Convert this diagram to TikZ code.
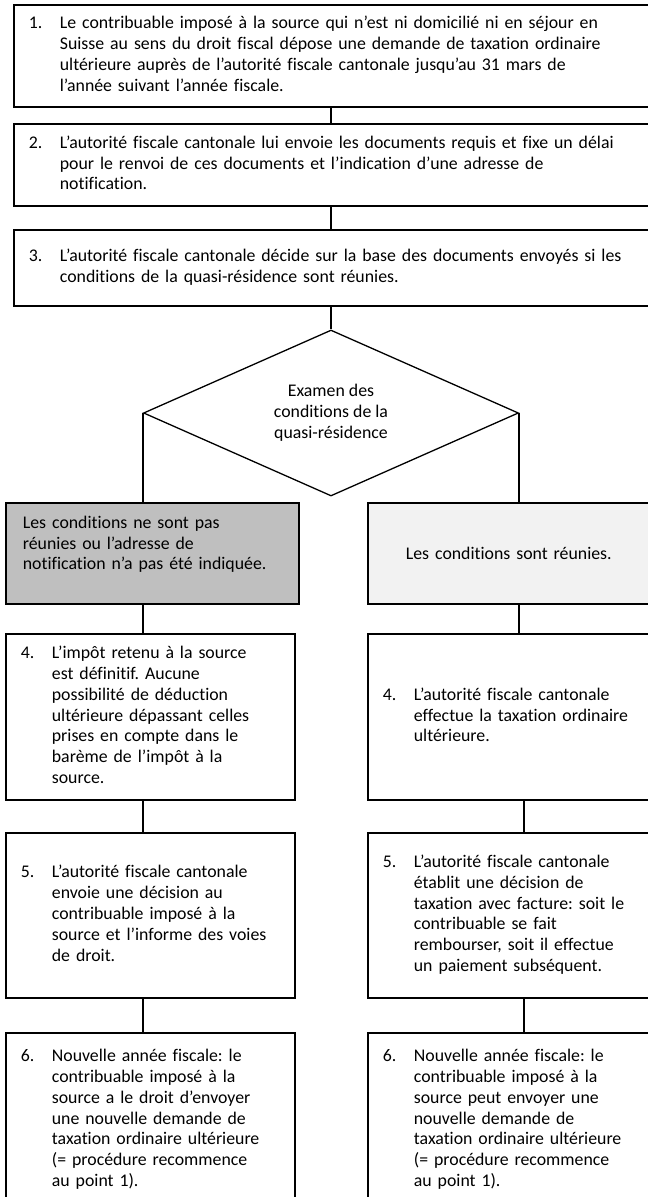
\documentclass[tikz,border=0pt]{standalone}
\usepackage{fontspec}
\setmainfont{Carlito}[Ligatures=NoCommon]
\usetikzlibrary{shapes.geometric, positioning}
\definecolor{nogogray}{RGB}{191, 191, 191}
\definecolor{golight}{RGB}{242, 242, 242}
\newcommand\numtext[2]{\noindent\begin{tabular}[c]{@{}p{31pt}@{}l@{}}#1&\begin{tabular}[t]{@{}l@{}}#2\end{tabular}\end{tabular}}
\frenchspacing

\begin{document}
\begin{tikzpicture}[x=1pt, y=-1pt,
        base/.style={draw, line width=1.8pt, anchor=north west, align=left, inner xsep=15pt, inner ysep=0pt, font=\fontsize{17.8}{20.8}\selectfont},
        widebox/.style={base, minimum width=639pt, text width=609pt},
        leftbox/.style={base, minimum width=289pt, text width=259pt},
        rightbox/.style={base, minimum width=303pt, text width=273pt},
        decision/.style={draw, diamond, line width=1.3pt, aspect=2.26, minimum width=375pt, minimum height=166pt, inner sep=0pt, align=center, font=\fontsize{17.8}{20.8}\selectfont},
        link/.style={line width=1.4pt}
    ]
        \useasboundingbox (0,0) rectangle (648,1197);
        \clip (0,0) rectangle (648,1197);

        % Common steps
        \node (step1) [widebox, minimum height=102pt] at (13,4) {\numtext{1.}{Le contribuable imposé à la source qui n’est ni domicilié ni en séjour en\\Suisse au sens du droit fiscal dépose une demande de taxation ordinaire\\ultérieure auprès de l’autorité fiscale cantonale jusqu’au 31 mars de\\l’année suivant l’année fiscale.}};
        \node (step2) [widebox, minimum height=82pt] at (13,123) {\numtext{2.}{L’autorité fiscale cantonale lui envoie les documents requis et fixe un délai\\pour le renvoi de ces documents et l’indication d’une adresse de\\notification.}};
        \node (step3) [widebox, minimum height=76pt] at (13,229) {\numtext{3.}{L’autorité fiscale cantonale décide sur la base des documents envoyés si les\\conditions de la quasi-résidence sont réunies.}};
        \node (dec) [decision] at (331,413) {Examen des\\conditions de la\\quasi-résidence};

        % Left branch
        \node (nogo) [leftbox, fill=nogogray, minimum height=101pt, inner xsep=17pt] at (5,502) {Les conditions ne sont pas\\réunies ou l’adresse de\\notification n’a pas été indiquée.\\\mbox{}};
        \node (nofour) [leftbox, minimum height=166pt] at (5,633) {\numtext{4.}{L’impôt retenu à la source\\est définitif. Aucune\\possibilité de déduction\\ultérieure dépassant celles\\prises en compte dans le\\barème de l’impôt à la\\source.}};
        \node (nofive) [leftbox, minimum height=165pt] at (5,832) {\numtext{5.}{L’autorité fiscale cantonale\\envoie une décision au\\contribuable imposé à la\\source et l’informe des voies\\de droit.}};
        \node (nosix) [leftbox, minimum height=174pt] at (5,1032) {\numtext{6.}{Nouvelle année fiscale: le\\contribuable imposé à la\\source a le droit d’envoyer\\une nouvelle demande de\\taxation ordinaire ultérieure\\(= procédure recommence\\au point 1).}};

        % Right branch
        \node (go) [rightbox, fill=golight, minimum height=101pt, inner xsep=38pt, text width=227pt] at (367,502) {Les conditions sont réunies.};
        \node (gofour) [rightbox, minimum height=166pt] at (367,633) {\numtext{4.}{L’autorité fiscale cantonale\\effectue la taxation ordinaire\\ultérieure.}};
        \node (gofive) [rightbox, minimum height=165pt] at (367,832) {\numtext{5.}{L’autorité fiscale cantonale\\établit une décision de\\taxation avec facture: soit le\\contribuable se fait\\rembourser, soit il effectue\\un paiement subséquent.}};
        \node (gosix) [rightbox, minimum height=174pt] at (367,1032) {\numtext{6.}{Nouvelle année fiscale: le\\contribuable imposé à la\\source peut envoyer une\\nouvelle demande de\\taxation ordinaire ultérieure\\(= procédure recommence\\au point 1).}};

        % Links
        \draw [link] (step1.south -| dec.north) -- (step2.north -| dec.north);
        \draw [link] (step2.south -| dec.north) -- (step3.north -| dec.north);
        \draw [link] (step3.south -| dec.north) -- (dec.north);
        \draw [link] (dec.west) -- (dec.west |- nogo.north);
        \draw [link] (dec.east) -- (dec.east |- go.north);
        \draw [link] (dec.west |- nogo.south) -- (dec.west |- nofour.north);
        \draw [link] (dec.west |- nofour.south) -- (dec.west |- nofive.north);
        \draw [link] (dec.west |- nofive.south) -- (dec.west |- nosix.north);
        \draw [link] (dec.east |- go.south) -- (dec.east |- gofour.north);
        \draw [link] ([xshift=5pt]dec.east |- gofour.south) -- ([xshift=5pt]dec.east |- gofive.north);
        \draw [link] ([xshift=5pt]dec.east |- gofive.south) -- ([xshift=5pt]dec.east |- gosix.north);
    \end{tikzpicture}
\end{document}
